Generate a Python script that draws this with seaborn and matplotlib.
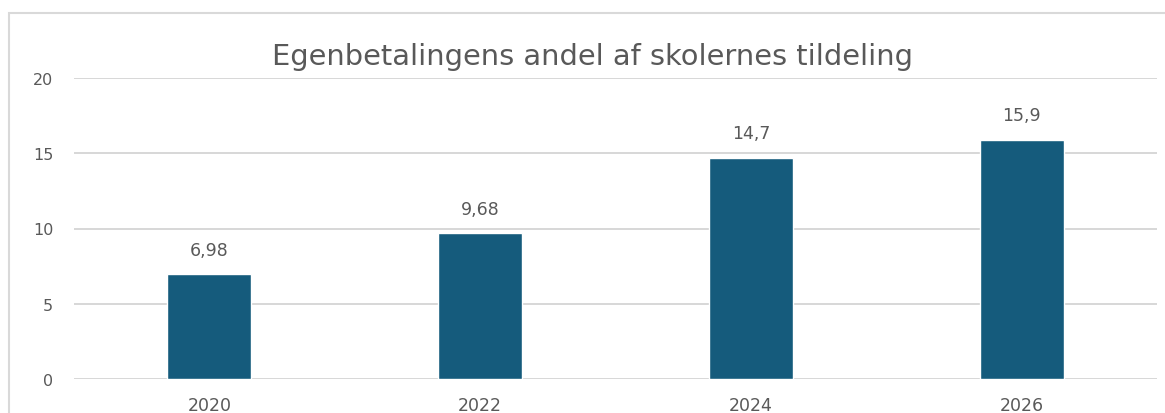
import matplotlib
matplotlib.use("Agg")
import matplotlib.pyplot as plt
import seaborn as sns
import pandas as pd
from matplotlib.patches import Rectangle

years = ["2020", "2022", "2024", "2026"]
values = [6.98, 9.68, 14.7, 15.9]
value_labels = ["6,98", "9,68", "14,7", "15,9"]

df = pd.DataFrame({"year": years, "value": values})

sns.set_theme(style="white")
plt.rcParams['font.family'] = ['DejaVu Sans']

fig = plt.figure(figsize=(11.65, 4.14), dpi=100)
ax = fig.add_axes([74 / 1165, 1 - 380 / 414, (1157 - 74) / 1165, (380 - 79) / 414])

sns.barplot(data=df, x="year", y="value", color="#155b7c", width=0.31,
            saturation=1, ax=ax)

ax.set_ylim(0, 20)
ax.set_yticks([0, 5, 10, 15, 20])
ax.yaxis.grid(True, color="#d4d4d4", linewidth=1.3)
ax.set_axisbelow(True)
for s in ax.spines.values():
    s.set_visible(False)
ax.tick_params(axis="both", length=0, labelcolor="#595959")
ax.tick_params(axis="y", pad=15, labelsize=11.5)
ax.tick_params(axis="x", pad=12, labelsize=12.5)
ax.set_xlabel("")
ax.set_ylabel("")

for i, (v, lab) in enumerate(zip(values, value_labels)):
    ax.annotate(lab, (i, v), xytext=(0, 11), textcoords="offset points",
                ha="center", va="bottom", fontsize=12.5, color="#595959")

fig.text(593 / 1165, 1 - 57 / 414, "Egenbetalingens andel af skolernes tildeling",
         ha="center", va="center", fontsize=20.8, color="#595959")

fig.patches.append(Rectangle((9 / 1165, -0.2), 1.2, 1 - 14 / 414 + 0.2,
                             transform=fig.transFigure, fill=False,
                             edgecolor="#d9d9d9", linewidth=1.5))

fig.savefig("out.png", dpi=100)
